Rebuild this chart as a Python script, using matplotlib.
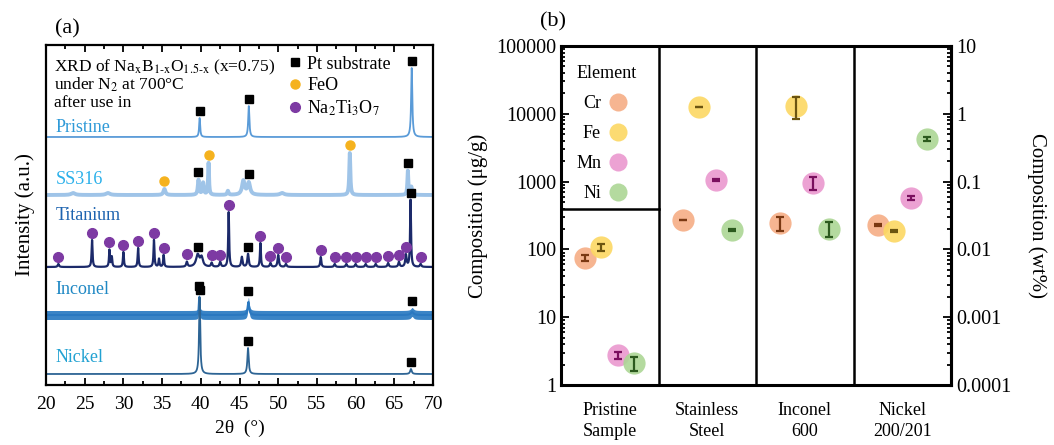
import numpy as np
import matplotlib.pyplot as plt
from matplotlib.lines import Line2D
from matplotlib.ticker import LogLocator, NullFormatter, FuncFormatter, MultipleLocator, FixedLocator

plt.rcParams['font.family'] = ['Liberation Serif', 'DejaVu Serif']
plt.rcParams['mathtext.fontset'] = 'stix'

# ---------------- (a) XRD patterns ----------------
# each pattern: baseline offset, peak positions (2theta), peak heights, peak widths
pristine_base = 248
pristine_pos = [39.85, 46.2, 67.25]
pristine_h = [19, 31, 69]
pristine_w = [0.08, 0.09, 0.09]
pristine_pt = [39.85, 46.2, 67.25]

ss316_base = 190
ss316_pos = [23.5, 28.0, 35.3, 39.7, 40.3, 41.0, 43.5, 45.5, 46.2, 50.5, 59.25, 66.75, 67.2]
ss316_h = [2, 2, 6, 15, 12, 32, 4, 14, 12, 2, 42, 24, 8]
ss316_w = [0.3, 0.3, 0.15, 0.1, 0.1, 0.07, 0.1, 0.2, 0.2, 0.3, 0.08, 0.07, 0.1]
ss316_pt = [39.7, 46.2, 66.75]
ss316_feo = [35.3, 41.0, 59.25]

titanium_base = 118
titanium_pos = [21.6, 25.95, 28.2, 28.5, 30.0, 31.9, 33.95, 34.6, 35.2, 38.2, 39.6, 40.1,
                41.4, 42.5, 43.6, 45.3, 46.1, 47.7, 49.0, 50.0, 51.0, 55.5, 57.3, 58.8,
                60.0, 61.3, 62.6, 64.2, 65.6, 66.5, 67.1, 68.4]
titanium_h = [3, 27, 17, 10, 15, 19, 27, 8, 12, 5, 12, 9,
              4, 5, 55, 10, 13, 24, 4, 12, 3, 10, 3, 3,
              3, 3, 3, 4, 5, 12, 67, 3]
titanium_w = [0.1, 0.07, 0.07, 0.07, 0.07, 0.07, 0.07, 0.07, 0.07, 0.1, 0.25, 0.2,
              0.1, 0.1, 0.07, 0.1, 0.1, 0.07, 0.1, 0.1, 0.1, 0.08, 0.1, 0.1,
              0.1, 0.1, 0.1, 0.1, 0.1, 0.1, 0.07, 0.1]
titanium_pt = [39.6, 46.1, 67.1]
titanium_nto = [21.6, 25.95, 28.2, 30.0, 31.9, 33.95, 35.2, 38.2, 41.4, 42.5, 43.6, 47.7,
                49.0, 50.0, 51.0, 55.5, 57.3, 58.8, 60.0, 61.3, 62.6, 64.2, 65.6, 66.5, 68.4]

inconel_base = 70
inconel_pos = [39.8, 46.15, 67.3]
inconel_h = [18, 13, 3]
inconel_w = [0.06, 0.12, 0.2]
inconel_pt = [39.8, 46.15, 67.3]

nickel_base = 11
nickel_pos = [39.85, 46.1, 67.15]
nickel_h = [77, 26, 5]
nickel_w = [0.09, 0.1, 0.12]
nickel_pt = [39.85, 46.1, 67.15]

# ---------------- (b) ICP composition ----------------
samples = ['Pristine\nSample', 'Stainless\nSteel', 'Inconel\n600', 'Nickel\n200/201']
elements = ['Cr', 'Fe', 'Mn', 'Ni']
cr_ppm = [75, 272, 245, 229]
cr_err = [8, 4, 60, 6]
fe_ppm = [108, 12600, 13000, 186]
fe_err = [12, 200, 4500, 6]
mn_ppm = [2.75, 1057, 955, 575]
mn_err = [0.3, 20, 200, 40]
ni_ppm = [2.1, 193, 200, 4240]
ni_err = [0.5, 4, 50, 300]

fig = plt.figure(figsize=(10.54, 4.45), dpi=100)

two_theta = np.linspace(20, 70, 5000)


def pattern(base, pos, h, w):
    y = np.full_like(two_theta, float(base))
    for p, a, g in zip(pos, h, w):
        y += a * g ** 2 / ((two_theta - p) ** 2 + g ** 2)
    return y


axa = fig.add_axes([46 / 1054, 1 - 385 / 445, 387 / 1054, 340 / 445])
axa.set_xlim(20, 70)
axa.set_ylim(0, 340)

y_pri = pattern(pristine_base, pristine_pos, pristine_h, pristine_w)
y_ss = pattern(ss316_base, ss316_pos, ss316_h, ss316_w)
y_ti = pattern(titanium_base, titanium_pos, titanium_h, titanium_w)
y_inc = pattern(inconel_base, inconel_pos, inconel_h, inconel_w)
y_ni = pattern(nickel_base, nickel_pos, nickel_h, nickel_w)

axa.plot(two_theta, y_pri, color='#5a9bd8', lw=1.3)
axa.plot(two_theta, y_ss, color='#9fc4e8', lw=2.8)
axa.plot(two_theta, y_ti, color='#1c2a6a', lw=1.6)
axa.fill_between(two_theta, y_inc - 4.5, y_inc + 4.5, color='#3a84c6', lw=0)
axa.plot(two_theta, y_inc, color='#2a78c0', lw=1.5)
axa.plot(two_theta, y_ni, color='#2d6494', lw=1.3)

off = 7
for xs, curve, extra in [(pristine_pt, y_pri, 0), (ss316_pt, y_ss, 1), (titanium_pt, y_ti, 0),
                         (inconel_pt, y_inc, 4), (nickel_pt, y_ni, 0)]:
    axa.plot(xs, np.interp(xs, two_theta, curve) + off + extra, 's', color='black', ms=6, ls='none')
axa.plot(ss316_feo, np.interp(ss316_feo, two_theta, y_ss) + off + 1, 'o', color='#f5b21e', ms=6.5, ls='none')
axa.plot(titanium_nto, np.interp(titanium_nto, two_theta, y_ti) + off, 'o', color='#7d3aa3', ms=7, ls='none')

trace_labels = [('Pristine', 258, '#2f9ad8'), ('SS316', 205, '#2ab0ea'), ('Titanium', 170, '#1e64b0'),
                ('Inconel', 96, '#1f88c4'), ('Nickel', 27, '#22a2d2')]
for txt, yy, c in trace_labels:
    axa.text(21.2, yy, txt, color=c, fontsize=13, va='center')

axa.text(21.0, 318, r'XRD of Na$_\mathrm{x}$B$_\mathrm{1\text{-}x}$O$_\mathrm{1.5\text{-}x}$ (x=0.75)',
         fontsize=12.5, va='center')
axa.text(21.0, 300, r'under N$_2$ at 700°C', fontsize=12.5, va='center')
axa.text(21.0, 282, 'after use in', fontsize=12.5, va='center')

handles = [Line2D([], [], marker='s', color='black', ls='none', ms=6),
           Line2D([], [], marker='o', color='#f5b21e', ls='none', ms=6.5),
           Line2D([], [], marker='o', color='#7d3aa3', ls='none', ms=7)]
axa.legend(handles, ['Pt substrate', 'FeO', r'Na$_2$Ti$_3$O$_7$'], loc='upper left',
           bbox_to_anchor=(0.61, 0.99), frameon=False, fontsize=13, handlelength=0.6,
           handletextpad=0.4, labelspacing=0.25, borderaxespad=0)

axa.xaxis.set_major_locator(MultipleLocator(5))
axa.xaxis.set_minor_locator(MultipleLocator(2.5))
axa.tick_params(axis='x', which='both', direction='in', top=True, labelsize=14, width=1.3, pad=8)
axa.tick_params(axis='x', which='major', length=5)
axa.tick_params(axis='x', which='minor', length=3)
axa.set_yticks([])
axa.set_xlabel('2θ  (°)', fontsize=14, labelpad=5)
axa.set_ylabel('Intensity (a.u.)', fontsize=15, labelpad=8)
for s in axa.spines.values():
    s.set_linewidth(1.6)
fig.text(55 / 1054, 1 - 29 / 445, '(a)', fontsize=16, va='center')

# ---------------- (b) ----------------
axb = fig.add_axes([561 / 1054, 1 - 385 / 445, 390 / 1054, 339 / 445])
axb.set_yscale('log')
axb.set_ylim(1, 1e5)
axb.set_xlim(0, 4)

centers = np.arange(len(samples)) + 0.5
offsets = [-0.25, -0.085, 0.085, 0.25]
fills = ['#f6ad85', '#fcd863', '#ea98cf', '#acd695']
darks = ['#7a3812', '#6b5410', '#7a0f5e', '#2c5a1e']
series = [(cr_ppm, cr_err), (fe_ppm, fe_err), (mn_ppm, mn_err), (ni_ppm, ni_err)]

for (vals, errs), dx, fc, dc, name in zip(series, offsets, fills, darks, elements):
    xs = centers + dx
    axb.plot(xs, vals, 'o', color=fc, ms=16, mec='none', alpha=0.9, ls='none', zorder=2)
    axb.errorbar(xs, vals, yerr=errs, fmt='none', ecolor=dc, elinewidth=1.6,
                 capsize=3, capthick=1.6, zorder=3)

for xd in [1, 2, 3]:
    axb.axvline(xd, color='black', lw=1.8, zorder=1)
axb.axhline(400, xmin=0, xmax=0.25, color='black', lw=1.8, zorder=1)

leg_handles = [Line2D([], [], marker='o', color=c, ms=13, ls='none', mec='none', alpha=0.9) for c in fills]
leg = axb.legend(leg_handles, elements, title='Element', loc='upper left', bbox_to_anchor=(0.02, 0.965),
                 frameon=False, fontsize=13, title_fontsize=13, markerfirst=False,
                 handlelength=0.9, handletextpad=0.5, labelspacing=0.72, borderaxespad=0,
                 alignment='left')

axb.set_xticks(centers)
axb.set_xticklabels(samples, fontsize=13, linespacing=1.3)
axb.tick_params(axis='x', length=0, pad=12)

fmt = FuncFormatter(lambda v, p: f'{v:g}')
axb.yaxis.set_major_locator(LogLocator(base=10, numticks=10))
axb.yaxis.set_minor_locator(LogLocator(base=10, subs=np.arange(2, 10), numticks=10))
axb.yaxis.set_major_formatter(fmt)
axb.yaxis.set_minor_formatter(NullFormatter())
axb.tick_params(axis='y', which='both', direction='in', labelsize=14.5, width=1.3)
axb.tick_params(axis='y', which='major', length=6)
axb.tick_params(axis='y', which='minor', length=3)
axb.set_ylabel('Composition (μg/g)', fontsize=15, labelpad=6)

# wt% scale on the right: 1 wt% = 10000 ug/g
sec = axb.secondary_yaxis('right', functions=(lambda v: v / 1e4, lambda v: v * 1e4))
sec.set_yscale('log')
sec.yaxis.set_major_locator(FixedLocator([1e-4, 1e-3, 1e-2, 1e-1, 1, 10]))
sec.yaxis.set_minor_locator(FixedLocator([m * 10.0 ** e for e in range(-4, 1) for m in range(2, 10)]))
sec.yaxis.set_major_formatter(fmt)
sec.yaxis.set_minor_formatter(NullFormatter())
sec.tick_params(axis='y', which='both', direction='in', labelsize=14.5, width=1.3)
sec.tick_params(axis='y', which='major', length=6)
sec.tick_params(axis='y', which='minor', length=3)
sec.set_ylabel('Composition (wt%)', fontsize=15, rotation=270, labelpad=26)
sec.spines['right'].set_linewidth(2.2)

for s in axb.spines.values():
    s.set_linewidth(2.2)
fig.text(540 / 1054, 1 - 22 / 445, '(b)', fontsize=16, va='center')

fig.savefig('out.png', dpi=100)
